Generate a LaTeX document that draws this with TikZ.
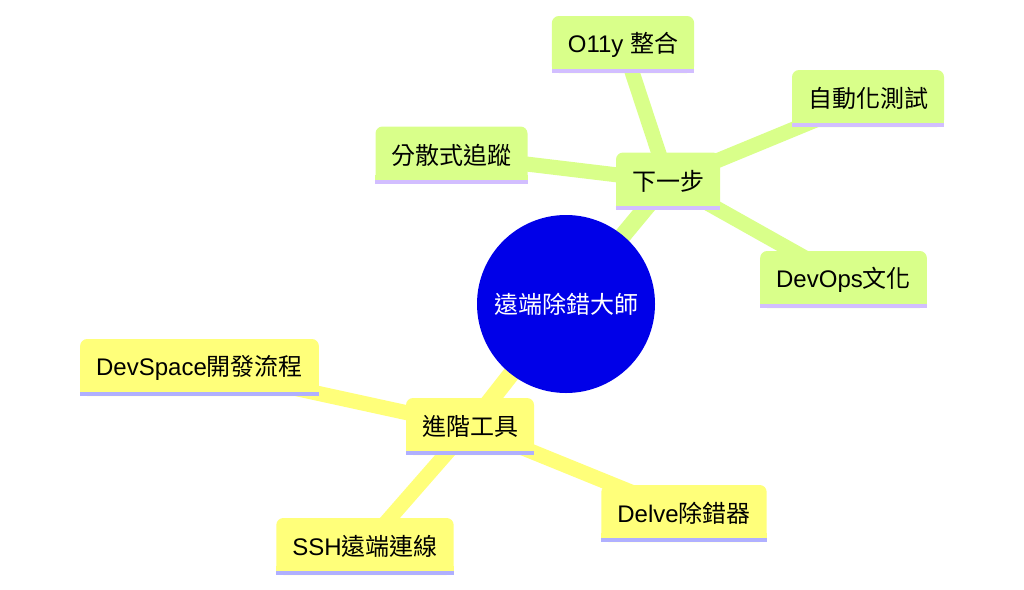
\documentclass[tikz,border=0pt]{standalone}
\usepackage{fontspec}
\setmainfont{Liberation Sans}
\newfontfamily\cjk{Noto Sans CJK TC}
\usepackage{xcolor}
\usetikzlibrary{backgrounds}

\definecolor{lime}{RGB}{217,255,138}
\definecolor{limeline}{RGB}{210,190,255}
\definecolor{lemon}{RGB}{255,255,122}
\definecolor{lemonline}{RGB}{176,176,255}
\definecolor{rootblue}{RGB}{0,0,232}

\begin{document}
\begin{tikzpicture}[
      x=1pt, y=-1pt,
      font=\fontsize{24pt}{29pt}\selectfont,
      root/.style={circle, fill=rootblue, text=white, minimum size=178pt, inner sep=0pt},
      kid/.style={rounded corners=7pt, minimum height=57pt, inner xsep=16pt, inner ysep=0pt},
      nextkid/.style={kid, fill=lime},
      advkid/.style={kid, fill=lemon},
      branch/.style={line width=17pt},
      twig/.style={line width=15pt}
    ]
    \useasboundingbox (0,0) rectangle (1024,589);

    \node[root] (root) at (566,304) {\cjk 遠端除錯大師};

    % next steps
    \node[nextkid] (next)   at (668,181)   {\cjk 下一步};
    \node[nextkid] (o11y)   at (623,44.5)  {O11y {\cjk 整合}};
    \node[nextkid] (autot)  at (868,98.5)  {\cjk 自動化測試};
    \node[nextkid] (trace)  at (451.5,155) {\cjk 分散式追蹤};
    \node[nextkid] (devops) at (843.5,279.5) {DevOps{\cjk 文化}};

    % advanced tools
    \node[advkid] (adv)   at (470,426.5)   {\cjk 進階工具};
    \node[advkid] (dspace) at (199.5,367.5) {DevSpace{\cjk 開發流程}};
    \node[advkid] (delve) at (684,513.5)   {Delve{\cjk 除錯器}};
    \node[advkid] (ssh)   at (365,546.5)   {SSH{\cjk 遠端連線}};

    % square bottoms and underlines
    \foreach \n in {next, o11y, autot, trace, devops} {
      \fill[lime] (\n.south west) rectangle ([yshift=9pt]\n.south east);
      \fill[limeline] (\n.south west) rectangle ([yshift=4pt]\n.south east);
    }
    \foreach \n in {adv, dspace, delve, ssh} {
      \fill[lemon] (\n.south west) rectangle ([yshift=9pt]\n.south east);
      \fill[lemonline] (\n.south west) rectangle ([yshift=4pt]\n.south east);
    }

    \begin{scope}[on background layer]
      \draw[branch, lime] (root.center) -- (next.center);
      \draw[branch, lemon] (root.center) -- (adv.center);
      \foreach \n in {o11y, autot, trace, devops}
        \draw[twig, lime] (next.center) -- (\n.center);
      \foreach \n in {dspace, delve, ssh}
        \draw[twig, lemon] (adv.center) -- (\n.center);
    \end{scope}
  \end{tikzpicture}
\end{document}
